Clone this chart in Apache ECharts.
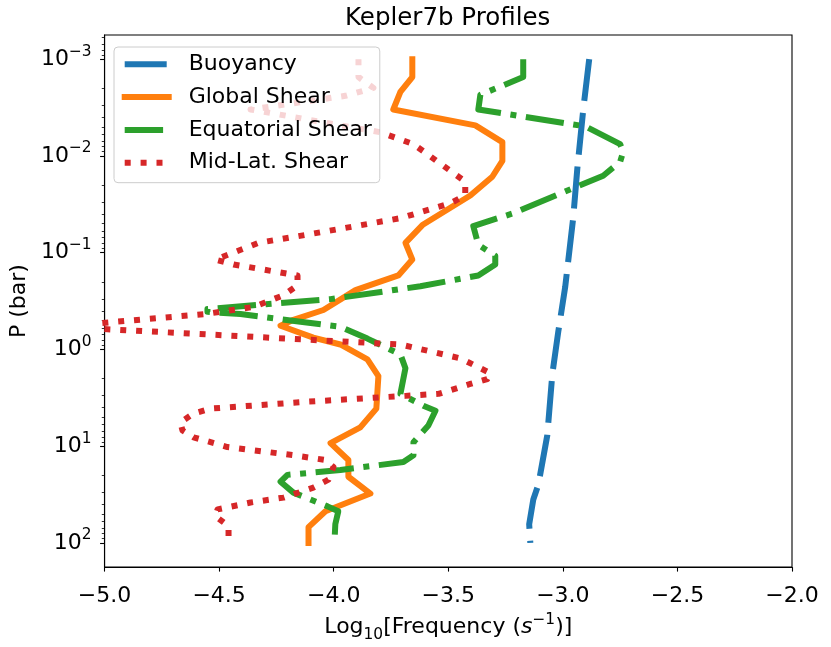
<!DOCTYPE html>
<html>
<head>
<meta charset="utf-8">
<script src="https://cdn.jsdelivr.net/npm/echarts@6/dist/echarts.min.js"></script>
<style>
  html, body { margin: 0; padding: 0; background: #fff; }
  #chart { width: 831px; height: 647px; }
</style>
</head>
<body>
<div id="chart"></div>
<script>
// [log10 frequency, pressure in bar], top of the profile first
var buoyancy = [
  [-2.885, 0.001], [-2.911, 0.00331], [-2.937, 0.0136], [-2.955, 0.044],
  [-2.990, 0.228], [-3.020, 0.655], [-3.046, 1.80], [-3.068, 7.73],
  [-3.107, 25.0], [-3.129, 35.6], [-3.147, 64.0], [-3.142, 100]
];
var globalShear = [
  [-3.657, 0.001], [-3.657, 0.00153], [-3.709, 0.00218], [-3.740, 0.00331],
  [-3.382, 0.00483], [-3.264, 0.00719], [-3.264, 0.01125], [-3.308, 0.0164],
  [-3.404, 0.0256], [-3.613, 0.0518], [-3.687, 0.0791], [-3.657, 0.1178],
  [-3.718, 0.1718], [-3.905, 0.244], [-4.045, 0.391], [-4.176, 0.494],
  [-4.232, 0.569], [-4.089, 0.755], [-3.971, 0.889], [-3.853, 1.265],
  [-3.805, 1.888], [-3.814, 4.09], [-3.884, 6.40], [-4.014, 9.31],
  [-3.936, 13.9], [-3.936, 20.7], [-3.840, 30.9], [-4.036, 47.1],
  [-4.110, 68.7], [-4.110, 100]
];
var equatorialShear = [
  [-3.173, 0.001], [-3.173, 0.00153], [-3.360, 0.00233], [-3.369, 0.00331],
  [-2.902, 0.00494], [-2.750, 0.00755], [-2.737, 0.0091], [-2.750, 0.0115],
  [-2.824, 0.0160], [-3.011, 0.0244], [-3.216, 0.0391], [-3.391, 0.0530],
  [-3.369, 0.0828], [-3.295, 0.1074], [-3.295, 0.1324], [-3.369, 0.1718],
  [-3.622, 0.2223], [-4.014, 0.302], [-4.551, 0.382], [-4.551, 0.409],
  [-4.407, 0.430], [-4.145, 0.518], [-3.971, 0.582], [-3.853, 0.773],
  [-3.709, 1.125], [-3.687, 1.563], [-3.709, 2.88], [-3.609, 3.82],
  [-3.556, 4.30], [-3.587, 6.11], [-3.652, 9.10], [-3.652, 12.4],
  [-3.696, 14.6], [-3.971, 17.6], [-4.202, 19.8], [-4.232, 23.3],
  [-4.176, 30.2], [-4.027, 41.9], [-3.980, 47.1], [-3.993, 64.0],
  [-3.997, 100]
];
var midLatShear = [
  [-3.892, 0.001], [-3.892, 0.00153], [-3.827, 0.00198], [-3.949, 0.00239],
  [-4.363, 0.00331], [-3.796, 0.00569], [-3.652, 0.00755], [-3.426, 0.0184],
  [-3.426, 0.0256], [-3.491, 0.0309], [-3.709, 0.0440], [-4.123, 0.0655],
  [-4.328, 0.0791], [-4.516, 0.1178], [-4.437, 0.1324], [-4.158, 0.1718],
  [-4.158, 0.2173], [-4.219, 0.2748], [-4.350, 0.364], [-4.560, 0.430],
  [-5.200, 0.582], [-3.709, 0.889], [-3.447, 1.236], [-3.317, 1.758],
  [-3.330, 2.023], [-3.404, 2.275], [-3.543, 2.88], [-3.687, 3.02],
  [-4.115, 3.47], [-4.538, 4.09], [-4.612, 4.60], [-4.669, 5.69],
  [-4.660, 6.87], [-4.612, 8.09], [-4.464, 10.2], [-4.176, 12.4],
  [-4.036, 13.9], [-4.001, 16.4], [-4.023, 22.2], [-4.089, 26.8],
  [-4.219, 34.0], [-4.363, 38.2], [-4.507, 45.0], [-4.516, 53.0],
  [-4.459, 67.1], [-4.459, 100]
];

var seriesNames = ['Buoyancy', 'Global Shear', 'Equatorial Shear', 'Mid-Lat. Shear'];
var majorTicks = [0.001, 0.01, 0.1, 1, 10, 100];
var minorMantissas = [2, 3, 4, 5, 6, 7, 8, 9];
var yMin = 0.000562;   // 10^-3.25
var yMax = 177.8;      // 10^2.25

var minorTicks = [];
[0.0001, 0.001, 0.01, 0.1, 1, 10, 100].forEach(function(d) {
  minorMantissas.forEach(function(m) {
    var v = +(m * d).toPrecision(3);
    if (v > yMin && v < yMax) minorTicks.push(v);
  });
});

var font = 'DejaVu Sans';
var blue = '#1f77b4', orange = '#ff7f0e', green = '#2ca02c', red = '#d62728';
var lw = 6;

function supText(v) {
  var e = Math.round(Math.log10(v));
  return '{b|10}{s|' + String(e).replace('-', '\u2212') + '}';
}

var chart = echarts.init(document.getElementById('chart'));
chart.setOption({
  animation: false,
  title: {
    text: 'Kepler7b Profiles',
    left: 340,
    top: 1,
    textStyle: { fontFamily: font, fontSize: 24.5, fontWeight: 'normal', color: '#000' }
  },
  legend: {
    orient: 'vertical',
    left: 114,
    top: 47,
    padding: [6.3, 8, 9, 7.7],
    itemWidth: 44,
    itemHeight: 14,
    itemGap: 10.8,
    backgroundColor: 'rgba(255,255,255,0.8)',
    borderColor: '#cccccc',
    borderWidth: 1,
    borderRadius: 4,
    itemStyle: { opacity: 0 },
    lineStyle: { width: lw },
    textStyle: { fontFamily: font, fontSize: 22, color: '#000', lineHeight: 22, padding: [0, 0, 0, 15] },
    data: seriesNames
  },
  grid: {
    left: 103.5, right: 39, top: 35, bottom: 72.7,
    show: true, borderColor: '#000', borderWidth: 1.1,
    containLabel: false
  },
  xAxis: {
    type: 'value',
    min: -5, max: -2, interval: 0.5,
    name: 'Log{sub|10}[Frequency ({it|s}{sup|\u22121})]',
    nameLocation: 'middle',
    nameGap: 34,
    nameTextStyle: {
      fontFamily: font, fontSize: 22, color: '#000', lineHeight: 30,
      rich: {
        sub: { fontFamily: font, fontSize: 15.4, lineHeight: 15, verticalAlign: 'bottom' },
        it: { fontFamily: font, fontSize: 22, lineHeight: 30, fontStyle: 'italic' },
        sup: { fontFamily: font, fontSize: 15.4, lineHeight: 15, verticalAlign: 'top' }
      }
    },
    axisLine: { lineStyle: { color: '#000', width: 1.1 } },
    axisTick: { length: 4.5, lineStyle: { color: '#000', width: 1.1 } },
    axisLabel: {
      margin: 18,
      fontFamily: font, fontSize: 22, color: '#000',
      formatter: function(v) { return v.toFixed(1).replace('-', '\u2212'); }
    },
    splitLine: { show: false }
  },
  yAxis: [{
    type: 'log',
    logBase: 10,
    inverse: true,
    min: yMin, max: yMax,
    position: 'left',
    name: 'P (bar)',
    nameLocation: 'middle',
    nameRotate: 90,
    nameGap: 74,
    nameTextStyle: { fontFamily: font, fontSize: 22, color: '#000' },
    axisLine: { show: true, lineStyle: { color: '#000', width: 1.1 } },
    axisTick: { length: 4.5, customValues: majorTicks, lineStyle: { color: '#000', width: 1.1 } },
    axisLabel: {
      margin: 13,
      customValues: majorTicks,
      color: '#000',
      formatter: supText,
      rich: {
        b: { fontFamily: font, fontSize: 22, lineHeight: 30, color: '#000' },
        s: { fontFamily: font, fontSize: 15.4, lineHeight: 15, verticalAlign: 'top', color: '#000' }
      }
    },
    splitLine: { show: false }
  }, {
    type: 'log',
    logBase: 10,
    inverse: true,
    min: yMin, max: yMax,
    position: 'left',
    axisLine: { show: false },
    axisTick: { length: 2.8, customValues: minorTicks, lineStyle: { color: '#000', width: 0.8 } },
    axisLabel: { show: false },
    splitLine: { show: false }
  }],
  series: [{
    name: seriesNames[0], type: 'line', data: buoyancy,
    showSymbol: false, symbol: 'none', color: blue,
    lineStyle: { color: blue, width: lw, type: [42, 12], cap: 'butt', join: 'round' }
  }, {
    name: seriesNames[1], type: 'line', data: globalShear,
    showSymbol: false, symbol: 'none', color: orange,
    lineStyle: { color: orange, width: lw, type: 'solid', cap: 'square', join: 'round' }
  }, {
    name: seriesNames[2], type: 'line', data: equatorialShear,
    showSymbol: false, symbol: 'none', color: green,
    lineStyle: { color: green, width: lw, type: [38.4, 9.6, 6, 9.6], cap: 'butt', join: 'round' }
  }, {
    name: seriesNames[3], type: 'line', data: midLatShear,
    showSymbol: false, symbol: 'none', color: red,
    lineStyle: { color: red, width: lw, type: [6, 9.9], cap: 'butt', join: 'round' }
  }]
});
</script>
</body>
</html>
